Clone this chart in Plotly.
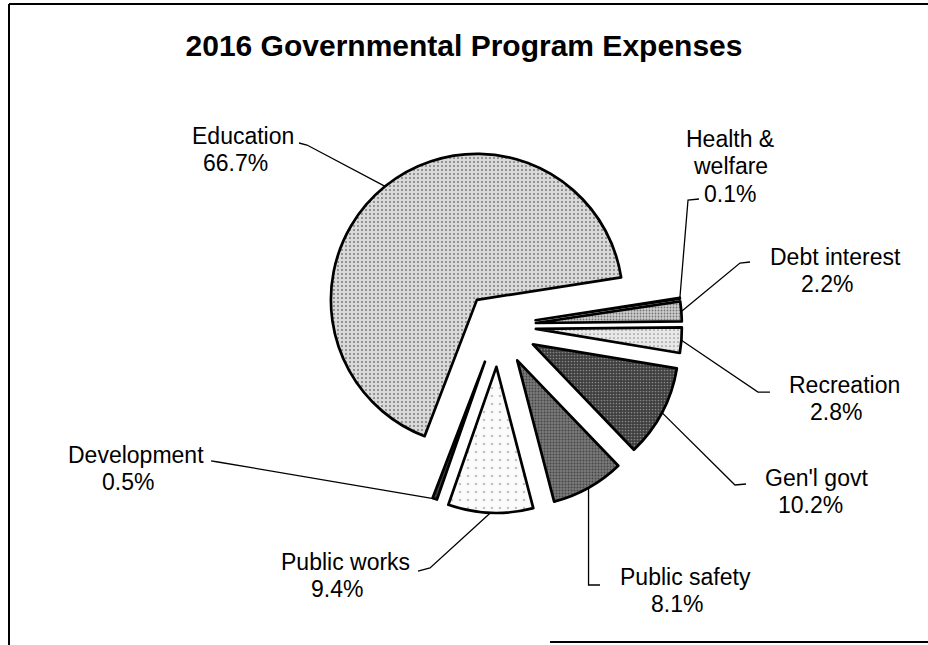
import math
import plotly.graph_objects as go

# ---------------- data ----------------
categories = ["Education", "Health & welfare", "Debt interest", "Recreation",
              "Gen'l govt", "Public safety", "Public works", "Development"]
percent = [66.7, 0.1, 2.2, 2.8, 10.2, 8.1, 9.4, 0.5]
label_lines = [["Education"], ["Health &", "welfare"], ["Debt interest"], ["Recreation"],
               ["Gen'l govt"], ["Public safety"], ["Public works"], ["Development"]]
title_text = "2016 Governmental Program Expenses"

# ---------------- style ----------------
W, H = 928, 645
CX, CY, R = 498, 326, 146          # pie centre / radius in px
ROTATION = 201                      # start of first slice, deg clockwise from 12 o'clock
pulls = [0.23, 0.26, 0.26, 0.26, 0.27, 0.27, 0.28, 0.26]
bg = ["#d9d9d9", "#000000", "#cdcdcd", "#e8e8e8", "#3e3e3e", "#7a7a7a", "#fbfbfb", "#4a4a4a"]
fg = ["#1e1e1e", "#000000", "#1e1e1e", "#3a3a3a", "#d0d0d0", "#111111", "#8a8a8a", "#1a1a1a"]
psize = [4, 3, 3, 4, 3, 3, 8, 3]
psol = [0.2, 0.3, 0.3, 0.15, 0.25, 0.35, 0.08, 0.3]

# first-line centre (px) of each label; later lines step down, value line shifted left
label_xy = [(243, 136), (730, 139), (835, 257), (844, 385),
            (816, 478), (685, 577), (345, 562), (136, 455)]
LINE_STEP = 27.3
VALUE_DX = [-8, 0, -8, -8, -6, -8, -8, -8]
# leader-line label-side points (px)
leader_start = [[(299, 143), (307, 145)],
                [(699, 199), (688, 200)],
                [(750, 262), (740, 263)],
                [(770, 392), (758, 392)],
                [(746, 484), (735, 485)],
                None,
                [(418, 571), (430, 568)],
                [(211, 461), (218, 462)]]
safety_corner = (585, 600)  # y of the bend and x of the tick end for Public safety

FONT = "Liberation Sans, Arial, sans-serif"
LABEL_SIZE = 23

maxpull = max(pulls)
S = 2 * R * (1 + maxpull)
dom_x = [(CX - S / 2) / W, (CX + S / 2) / W]
dom_y = [1 - (CY + S / 2) / H, 1 - (CY - S / 2) / H]

fig = go.Figure()
fig.add_trace(go.Pie(
    labels=categories, values=percent, sort=False, direction="clockwise",
    rotation=((ROTATION + 180) % 360) - 180,
    pull=pulls, textinfo="none", hoverinfo="label+percent", showlegend=False,
    domain=dict(x=dom_x, y=dom_y),
    marker=dict(colors=bg, line=dict(color="#000000", width=2.7),
                pattern=dict(shape=["."] * len(percent), bgcolor=bg, fgcolor=fg,
                             size=psize, solidity=psol, fillmode="overlay")),
))


def px(x, y):
    return x / W, 1 - y / H


total = sum(percent)
shapes = []
annotations = []
acc = 0.0
for i, v in enumerate(percent):
    # leader anchor on the outer arc at the slice's mid angle (derived from data)
    a0 = ROTATION + 360 * acc / total
    acc += v
    a1 = ROTATION + 360 * acc / total
    m = math.radians((a0 + a1) / 2)
    dist = (1 + pulls[i]) * R
    ax_, ay_ = CX + dist * math.sin(m), CY - dist * math.cos(m)
    if leader_start[i] is not None:
        pts = leader_start[i] + [(ax_, ay_)]
    else:
        pts = [(ax_, ay_), (ax_, safety_corner[0]), (safety_corner[1], safety_corner[0])]
    path = "M " + " L ".join("%.4f,%.4f" % px(*p) for p in pts)
    shapes.append(dict(type="path", path=path, xref="paper", yref="paper",
                       line=dict(color="#000000", width=1.3)))

    lines = label_lines[i] + ["%.1f%%" % v]
    lx, ly = label_xy[i]
    for k, t in enumerate(lines):
        x = lx + (VALUE_DX[i] if k == len(lines) - 1 else 0)
        y = ly + k * LINE_STEP
        fx, fy = px(x, y)
        annotations.append(dict(
            x=fx, y=fy, xref="paper", yref="paper", xanchor="center", yanchor="middle",
            text=t, showarrow=False,
            font=dict(family=FONT, size=LABEL_SIZE, color="#000000")))

# scanned frame
frame = [((9, 4), (928, 4)), ((9, 4), (9, 645)), ((550, 642), (928, 642))]
for (x0, y0), (x1, y1) in frame:
    a = px(x0, y0)
    b = px(x1, y1)
    shapes.append(dict(type="line", xref="paper", yref="paper", x0=a[0], y0=a[1],
                       x1=b[0], y1=b[1], line=dict(color="#000000", width=2)))

fig.update_layout(
    width=W, height=H, margin=dict(l=0, r=0, t=0, b=0),
    paper_bgcolor="#ffffff", plot_bgcolor="#ffffff",
    title=dict(text=title_text, x=0.5, xref="paper", xanchor="center",
               y=1 - 45 / H, yref="container", yanchor="middle",
               font=dict(family=FONT, size=30, color="#000000", weight="bold")),
    shapes=shapes, annotations=annotations,
)

fig.write_html("out.html")
